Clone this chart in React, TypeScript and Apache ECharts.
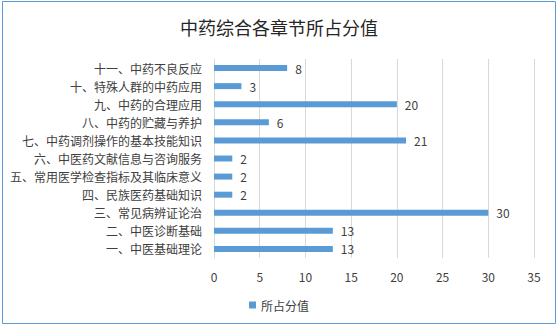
import React, { useEffect, useRef } from "react";
import * as echarts from "echarts";

const categories = [
  "一、中医基础理论",
  "二、中医诊断基础",
  "三、常见病辨证论治",
  "四、民族医药基础知识",
  "五、常用医学检查指标及其临床意义",
  "六、中医药文献信息与咨询服务",
  "七、中药调剂操作的基本技能知识",
  "八、中药的贮藏与养护",
  "九、中药的合理应用",
  "十、特殊人群的中药应用",
  "十一、中药不良反应",
];
const scores = [13, 13, 30, 2, 2, 2, 21, 6, 20, 3, 8];
const seriesName = "所占分值";
const title = "中药综合各章节所占分值";

const FONT = "'Noto Sans CJK SC', 'Noto Sans', sans-serif";

export default function App() {
  const ref = useRef<HTMLDivElement>(null);
  useEffect(() => {
    if (!ref.current) return;
    const chart = echarts.init(ref.current, undefined, { renderer: "svg" });
    chart.setOption({
      animation: false,
      backgroundColor: "#ffffff",
      textStyle: { fontFamily: FONT },
      title: {
        text: title,
        left: "center",
        top: 13,
        textStyle: { fontSize: 18, fontWeight: "normal", color: "#262626", fontFamily: FONT },
      },
      legend: {
        bottom: 10,
        left: "center",
        itemWidth: 7,
        itemHeight: 7,
        icon: "rect",
        textStyle: { fontSize: 12, color: "#404040", fontFamily: FONT },
        data: [seriesName],
      },
      grid: { left: 214, right: 24, top: 59, bottom: 68, containLabel: false },
      xAxis: {
        type: "value",
        min: 0,
        max: 35,
        interval: 5,
        axisLine: { show: false },
        axisTick: { show: false },
        splitLine: { lineStyle: { color: "#d9d9d9", width: 1 } },
        axisLabel: { fontSize: 12, color: "#404040", margin: 12, fontFamily: FONT },
      },
      yAxis: {
        type: "category",
        data: categories,
        axisLine: { show: true, lineStyle: { color: "#d9d9d9" } },
        axisTick: { show: false },
        axisLabel: { fontSize: 12, color: "#404040", margin: 12, fontFamily: FONT },
      },
      series: [
        {
          name: seriesName,
          type: "bar",
          data: scores,
          barWidth: 6,
          itemStyle: { color: "#5b9bd5" },
          label: {
            show: true,
            position: "right",
            distance: 8,
            fontSize: 12,
            color: "#404040",
            fontFamily: FONT,
          },
        },
      ],
      graphic: [
        {
          type: "rect",
          shape: { x: 2.5, y: 1.5, width: 553, height: 322 },
          style: { fill: "none", stroke: "#5b9bd5", lineWidth: 1 },
          silent: true,
        },
      ],
    });
    return () => chart.dispose();
  }, []);
  return (
    <div
      ref={ref}
      style={{ position: "fixed", left: 0, top: 0, width: 558, height: 326 }}
    />
  );
}
